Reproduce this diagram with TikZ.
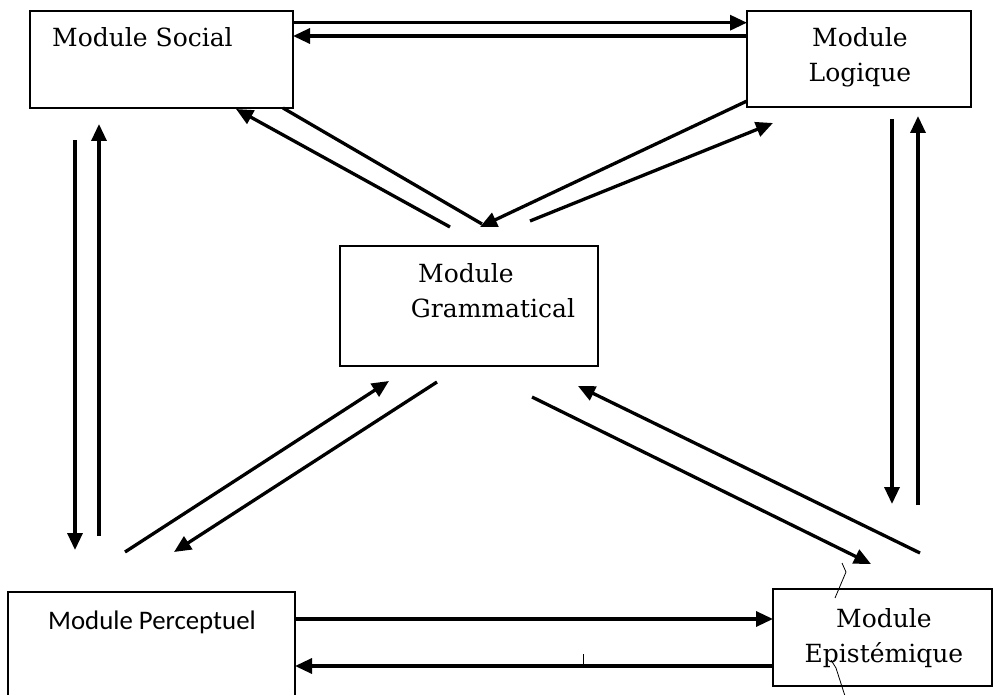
\documentclass[tikz,border=0pt]{standalone}
\usepackage{fontspec}
\setmainfont{DejaVu Serif}
\newfontfamily\calfont{Carlito}
\usetikzlibrary{arrows.meta}
\tikzset{
  modbox/.style={draw=black, line width=2.6pt, fill=none, inner sep=0pt},
  lbl/.style={anchor=base, inner sep=0pt, font=\fontsize{25}{30}\selectfont},
  lblsans/.style={anchor=base west, inner sep=0pt, font=\calfont\fontsize{26.8}{32}\selectfont},
  link/.style={line width=3.3pt, -{Triangle[length=17pt, width=15pt]}},
  plain/.style={line width=3.3pt},
  penmark/.style={line width=0.8pt}
}
\begin{document}
\begin{tikzpicture}[x=1pt, y=-1pt]
\clip (0,0) rectangle (997,695);
\fill[white] (0,0) rectangle (997,695);
% boxes
\node[modbox, minimum width=263pt, minimum height=97pt] (social) at (161.5,59.5) {};
\node[modbox, minimum width=224pt, minimum height=96pt] (logique) at (859,59) {};
\node[modbox, minimum width=258pt, minimum height=120pt] (gram) at (469,306) {};
\node[modbox, minimum width=287pt, minimum height=130pt] (percep) at (151.5,657) {};
\node[modbox, minimum width=219pt, minimum height=97pt] (episte) at (882.5,637.5) {};
% labels
\node[lbl, anchor=base west] (tsocial) at (52,47) {Module Social};
\node[lbl] (tlog1) at (860,47) {Module};
\node[lbl] (tlog2) at (860,82) {Logique};
\node[lbl] (tgram1) at (466,283) {Module};
\node[lbl] (tgram2) at (493,318) {Grammatical};
\node[lblsans] (tper) at (48,629) {Module Perceptuel};
\node[lbl] (tepi1) at (884,627) {Module};
\node[lbl] (tepi2) at (884,662) {Epistémique};
% coordinates
\coordinate (a1) at (293,22.7);  \coordinate (a2) at (747,22.7);
\coordinate (b1) at (747,36);    \coordinate (b2) at (293,36);
\coordinate (c1) at (75,140);    \coordinate (c2) at (75,550);
\coordinate (d1) at (99,536);    \coordinate (d2) at (99,124);
\coordinate (e1) at (892,119);   \coordinate (e2) at (892,504);
\coordinate (f1) at (918,505);   \coordinate (f2) at (918,116);
\coordinate (g1) at (283,108);   \coordinate (g2) at (482,224);
\coordinate (h1) at (450,227);   \coordinate (h2) at (236,109);
\coordinate (i1) at (747,101);   \coordinate (i2) at (480,227);
\coordinate (j1) at (530,221);   \coordinate (j2) at (773,123);
\coordinate (k1) at (125,552);   \coordinate (k2) at (389,381);
\coordinate (l1) at (437,382);   \coordinate (l2) at (174,552);
\coordinate (m1) at (532,397);   \coordinate (m2) at (871,564);
\coordinate (n1) at (920,553);   \coordinate (n2) at (578,386);
\coordinate (o1) at (295,619);   \coordinate (o2) at (773,619);
\coordinate (p1) at (773,666);   \coordinate (p2) at (295,666);
% connectors
\draw[link] (a1) -- (a2);
\draw[link] (b1) -- (b2);
\draw[link] (c1) -- (c2);
\draw[link] (d1) -- (d2);
\draw[link] (e1) -- (e2);
\draw[link] (f1) -- (f2);
\draw[plain] (g1) -- (g2);
\draw[link] (h1) -- (h2);
\draw[link] (i1) -- (i2);
\draw[link] (j1) -- (j2);
\draw[link] (k1) -- (k2);
\draw[link] (l1) -- (l2);
\draw[link] (m1) -- (m2);
\draw[link] (n1) -- (n2);
\draw[link] (o1) -- (o2);
\draw[link] (p1) -- (p2);
% small pen marks
\coordinate (q1) at (842,563); \coordinate (q2) at (846,572); \coordinate (q3) at (835,598);
\draw[penmark] (q1) -- (q2) -- (q3);
\coordinate (r1) at (831,660); \coordinate (r2) at (836,668); \coordinate (r3) at (845,696);
\draw[penmark] (r1) -- (r2) -- (r3);
\coordinate (s1) at (583,654); \coordinate (s2) at (583,665);
\draw[penmark] (s1) -- (s2);
\end{tikzpicture}
\end{document}
